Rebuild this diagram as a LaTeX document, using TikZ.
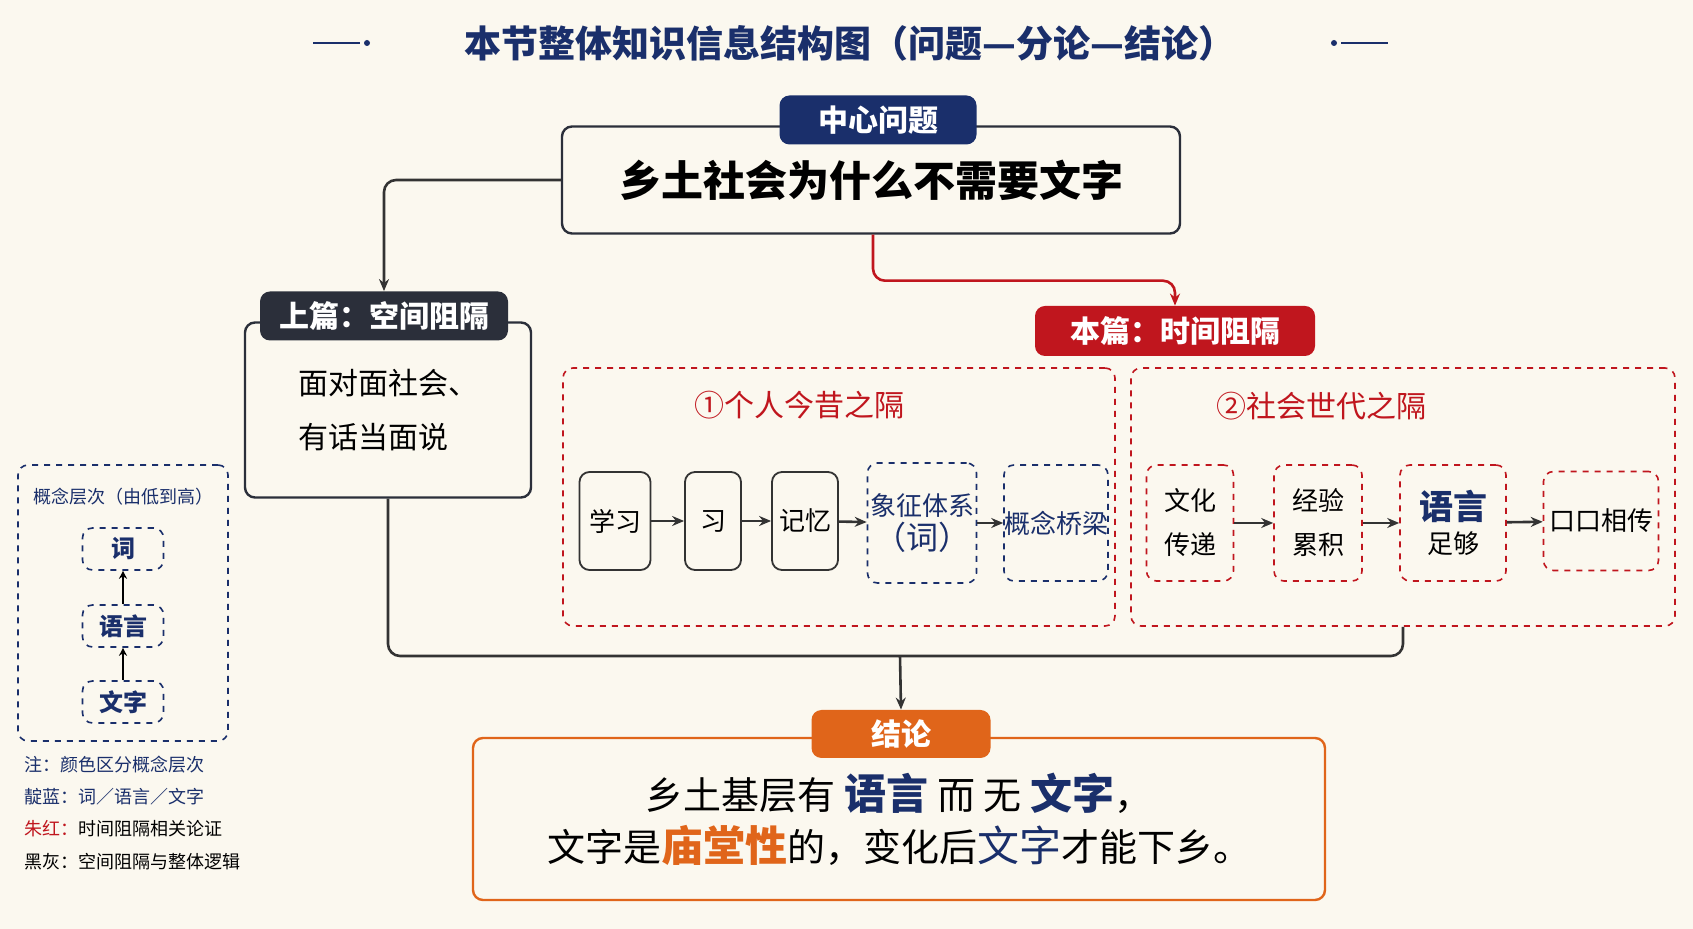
\documentclass[tikz,border=0pt]{standalone}
\usepackage{fontspec}
\setmainfont{Noto Sans CJK SC}
\usetikzlibrary{arrows.meta}
\definecolor{bg}{HTML}{FBF8EF}
\definecolor{navy}{HTML}{1A2F6B}
\definecolor{zred}{HTML}{C0161E}
\definecolor{org}{HTML}{E0651A}
\definecolor{dk}{HTML}{2B2F3A}
\definecolor{ln}{HTML}{333333}
\begin{document}
\begin{tikzpicture}[x=0.5pt,y=-0.5pt,
  lbl/.style={rounded corners=5pt,text=white,font=\fontsize{15}{18}\selectfont\bfseries,inner sep=0pt},
  bigbox/.style={draw=#1,line width=1.2pt,rounded corners=5pt,fill=bg,inner sep=0pt},
  dbox/.style={draw=#1,dashed,line width=0.8pt,rounded corners=5pt,fill=bg,inner sep=0pt,align=center,font=\fontsize{13}{17}\selectfont},
  sbox/.style={draw=ln,line width=0.9pt,rounded corners=5pt,fill=bg,inner sep=0pt,align=center,font=\fontsize{13}{17}\selectfont},
  ar/.style={-{Stealth[length=6pt,width=5pt]},line width=1.3pt,draw=ln},
  con/.style={line width=1.3pt,draw=ln,rounded corners=6pt}]
\useasboundingbox (0,0) rectangle (1693,929);
\fill[bg] (0,0) rectangle (1693,929);
% title
\node[text=navy,font=\fontsize{18.5}{22}\selectfont\bfseries] (title) at (850,43) {本节整体知识信息结构图（问题—分论—结论）};
\draw[navy,line width=1pt] (313,43) -- (360,43); \fill[navy] (367,43) circle (3);
\draw[navy,line width=1pt] (1341,43) -- (1388,43); \fill[navy] (1334,43) circle (3);
% central
\node[bigbox=dk,minimum width=309pt,minimum height=53.5pt,font=\fontsize{21}{24}\selectfont\bfseries] (central) at (871,180) {\raisebox{-2pt}{乡土社会为什么不需要文字}};
\node[lbl,fill=navy,minimum width=98.5pt,minimum height=24.5pt] (clbl) at (878,120) {中心问题};
% upper
\node[bigbox=dk,minimum width=143pt,minimum height=87.5pt,align=left,font=\fontsize{15}{27}\selectfont] (up) at (388,410) {面对面社会、\\有话当面说};
\node[lbl,fill=dk,minimum width=124pt,minimum height=24.5pt] (uplbl) at (384,316) {上篇：空间阻隔};
% ben
\node[lbl,fill=zred,minimum width=140pt,minimum height=25pt] (ben) at (1175,331) {本篇：时间阻隔};
\draw[con,ar,rounded corners=6pt] (central.west) -| (uplbl.north);
\draw[con,ar,draw=zred,rounded corners=6pt] ([xshift=1pt]central.south) -- ++(0,46) -| (ben.north);
% sections
\node[dbox=zred,minimum width=276pt,minimum height=129pt] (s1) at (839,497) {};
\node[dbox=zred,minimum width=272pt,minimum height=129pt] (s2) at (1403,497) {};
\node[text=zred,font=\fontsize{15}{18}\selectfont] (t1) at (799,405) {①个人今昔之隔};
\node[text=zred,font=\fontsize{15}{18}\selectfont] (t2) at (1321,406) {②社会世代之隔};
\node[sbox,minimum width=35.5pt,minimum height=49pt] (a1) at (615,521) {学习};
\node[sbox,minimum width=28pt,minimum height=49pt] (a2) at (713,521) {习};
\node[sbox,minimum width=33pt,minimum height=49pt] (a3) at (805,521) {记忆};
\node[dbox=navy,text=navy,minimum width=54.5pt,minimum height=60pt] (a4) at (922,523) {象征体系\\{\fontsize{16}{20}\selectfont（词）}};
\node[dbox=navy,text=navy,minimum width=47pt,minimum height=58pt] (a5) at (1056,523) {概念桥梁};
\node[dbox=zred,minimum width=43.5pt,minimum height=58pt,font=\fontsize{13}{22}\selectfont] (b1) at (1190,523) {文化\\传递};
\node[dbox=zred,minimum width=44pt,minimum height=58pt,font=\fontsize{13}{22}\selectfont] (b2) at (1318,523) {经验\\累积};
\node[dbox=zred,minimum width=53pt,minimum height=58pt] (b3) at (1453,523) {{\fontsize{17}{22}\selectfont\bfseries\color{navy}语言}\\足够};
\node[dbox=zred,minimum width=57.5pt,minimum height=49.5pt] (b4) at (1601,521) {口口相传};
\foreach \p/\q in {a1/a2,a2/a3,a3/a4,a4/a5,b1/b2,b2/b3,b3/b4} \draw[ar] (\p) -- (\q);
% conclusion
\coordinate (merge) at (900,656);
\draw[con] (up.south) |- (merge) -| (s2.south);
\node[bigbox=org,minimum width=426pt,minimum height=81pt,align=center,font=\fontsize{19}{30}\selectfont] (con) at (899,819) {\raisebox{-4pt}{乡土基层有 {\color{navy}\bfseries\fontsize{21}{30}\selectfont 语言} 而 无 {\color{navy}\bfseries\fontsize{21}{30}\selectfont 文字}，}\\文字是{\color{org}\bfseries\fontsize{21}{30}\selectfont 庙堂性}的，变化后{\color{navy}\fontsize{21}{30}\selectfont 文字}才能下乡。};
\node[lbl,fill=org,minimum width=89.5pt,minimum height=24pt] (clb) at (901,734) {结论};
\draw[ar] (merge) -- (clb.north);
% legend
\node[dbox=navy,minimum width=105pt,minimum height=138pt] (leg) at (123,603) {};
\node[text=navy,font=\fontsize{9}{11}\selectfont] (lt) at (123,497) {概念层次（由低到高）};
\node[dbox=navy,text=navy,font=\fontsize{12}{14}\selectfont\bfseries,minimum width=40.5pt,minimum height=21pt] (l1) at (123,549) {词};
\node[dbox=navy,text=navy,font=\fontsize{12}{14}\selectfont\bfseries,minimum width=40.5pt,minimum height=21pt] (l2) at (123,626) {语言};
\node[dbox=navy,text=navy,font=\fontsize{12}{14}\selectfont\bfseries,minimum width=40.5pt,minimum height=21pt] (l3) at (123,702) {文字};
\draw[-{Stealth[length=4pt,width=4pt]},line width=0.8pt] (l3) -- (l2);
\draw[-{Stealth[length=4pt,width=4pt]},line width=0.8pt] (l2) -- (l1);
\begin{scope}[every node/.style={anchor=west,font=\fontsize{9}{11}\selectfont,inner sep=0pt}]
\node[text=navy] (n1) at (24,765) {注：颜色区分概念层次};
\node (n2) at (24,797) {{\color{navy}靛蓝：词／语言／文字}};
\node (n3) at (24,829) {{\color{zred}朱红：}时间阻隔相关论证};
\node (n4) at (24,862) {黑灰：空间阻隔与整体逻辑};
\end{scope}
\end{tikzpicture}
\end{document}
